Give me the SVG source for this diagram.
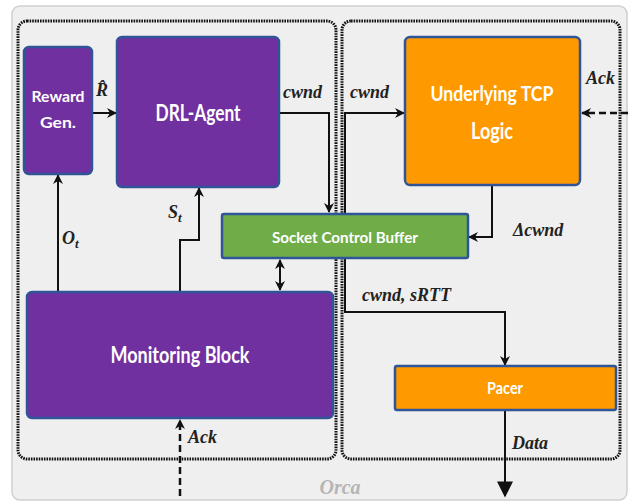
<svg xmlns="http://www.w3.org/2000/svg" width="641" height="504" viewBox="0 0 641 504">
  <style>
    .frame { fill: #efefef; stroke: #cfcfcf; stroke-width: 1.5; }
    .zone { fill: none; stroke: #111; stroke-width: 3; stroke-dasharray: 1.6 1; }
    .purple { fill: #7030a0; stroke: #2f5597; stroke-width: 2.5; }
    .orange { fill: #ff9900; stroke: #2f5597; stroke-width: 2.5; }
    .green { fill: #70ad47; stroke: #2f5597; stroke-width: 2.5; }
    .lbl { font-family: Lato, "Open Sans", sans-serif; font-weight: bold; fill: #ffffff; text-anchor: middle; }
    .math { font-family: "Liberation Serif", serif; font-style: italic; font-weight: bold; fill: #222; font-size: 18px; }
    .wire { fill: none; stroke: #111; stroke-width: 2; }
    .dash { fill: none; stroke: #111; stroke-width: 2.5; stroke-dasharray: 7 4; }
  </style>
  <defs>
    <marker id="head" viewBox="0 0 10 10" refX="9" refY="5" markerWidth="10" markerHeight="10" markerUnits="userSpaceOnUse" orient="auto-start-reverse">
      <path d="M0,0 L10,5 L0,10 L3,5 Z" fill="#111"/>
    </marker>
    <marker id="bighead" viewBox="0 0 10 10" refX="9" refY="5" markerWidth="20" markerHeight="16" markerUnits="userSpaceOnUse" orient="auto">
      <path d="M0,0 L10,5 L0,10 Z" fill="#111"/>
    </marker>
  </defs>

  <!-- outer panel -->
  <rect class="frame" x="12" y="6" width="615" height="494" rx="8"/>
  <!-- agent side and kernel side -->
  <rect class="zone" x="18" y="21" width="318" height="438" rx="9"/>
  <rect class="zone" x="342" y="21" width="278" height="438" rx="9"/>
  <text x="340" y="494" font-family="'Liberation Serif', serif" font-style="italic" font-weight="bold" font-size="20" fill="#b5b5b5" text-anchor="middle">Orca</text>

  <g id="connectors">
    <!-- reward to agent -->
    <line class="wire" x1="92" y1="113" x2="116" y2="113" marker-end="url(#head)"/>
    <!-- agent cwnd to socket buffer -->
    <polyline class="wire" points="279,113 329,113 329,212" marker-end="url(#head)"/>
    <!-- buffer to TCP logic and pacer -->
    <polyline class="wire" points="345,213 345,113 404,113" marker-end="url(#head)"/>
    <polyline class="wire" points="345,258 345,312 505,312 505,365" marker-end="url(#head)"/>
    <!-- delta cwnd -->
    <polyline class="wire" points="492,185 492,237 469,237" marker-end="url(#head)"/>
    <!-- incoming ack to TCP logic -->
    <line class="dash" x1="628" y1="113" x2="582" y2="113" marker-end="url(#head)"/>
    <!-- state to agent -->
    <polyline class="wire" points="180,292 180,240 199,240 199,188" marker-end="url(#head)"/>
    <!-- observation to reward -->
    <line class="wire" x1="58" y1="292" x2="58" y2="175" marker-end="url(#head)"/>
    <!-- buffer <-> monitor -->
    <line class="wire" x1="280" y1="260" x2="280" y2="290" marker-start="url(#head)" marker-end="url(#head)"/>
    <!-- ack into monitor -->
    <line class="dash" x1="180" y1="496" x2="180" y2="420" marker-end="url(#head)"/>
    <!-- data out -->
    <line class="wire" x1="505" y1="410" x2="505" y2="496" stroke-width="2.5" marker-end="url(#bighead)"/>

    <text class="math" x="96" y="96">R̂</text>
    <text class="math" x="283" y="98">cwnd</text>
    <text class="math" x="350" y="98">cwnd</text>
    <text class="math" x="586" y="84">Ack</text>
    <text class="math" x="513" y="236">Δcwnd</text>
    <text class="math" x="168" y="218">S<tspan font-size="13" dy="4">t</tspan></text>
    <text class="math" x="62" y="244">O<tspan font-size="13" dy="4">t</tspan></text>
    <text class="math" x="362" y="301">cwnd, sRTT</text>
    <text class="math" x="188" y="443">Ack</text>
    <text class="math" x="512" y="449">Data</text>
  </g>

  <g id="reward-gen">
    <rect class="purple" x="24" y="47" width="68" height="127" rx="5"/>
    <text class="lbl" x="58" y="102" font-size="16" textLength="53" lengthAdjust="spacingAndGlyphs">Reward</text>
    <text class="lbl" x="58" y="128" font-size="16" textLength="36" lengthAdjust="spacingAndGlyphs">Gen.</text>
  </g>
  <g id="drl-agent">
    <rect class="purple" x="117" y="37" width="162" height="150" rx="5"/>
    <text class="lbl" x="198" y="121" font-size="22" textLength="85" lengthAdjust="spacingAndGlyphs">DRL-Agent</text>
  </g>
  <g id="tcp-logic">
    <rect class="orange" x="405" y="37" width="175" height="148" rx="5"/>
    <text class="lbl" x="492" y="101" font-size="21" textLength="123" lengthAdjust="spacingAndGlyphs">Underlying TCP</text>
    <text class="lbl" x="492" y="139" font-size="22" textLength="42" lengthAdjust="spacingAndGlyphs">Logic</text>
  </g>
  <g id="socket-buffer">
    <rect class="green" x="222" y="214" width="246" height="44" rx="2"/>
    <text class="lbl" x="345" y="243" font-size="16" textLength="146" lengthAdjust="spacingAndGlyphs">Socket Control Buffer</text>
  </g>
  <g id="monitoring-block">
    <rect class="purple" x="27" y="292" width="306" height="126" rx="5"/>
    <text class="lbl" x="180" y="363" font-size="22" textLength="139" lengthAdjust="spacingAndGlyphs">Monitoring Block</text>
  </g>
  <g id="pacer">
    <rect class="orange" x="395" y="366" width="221" height="44" rx="2"/>
    <text class="lbl" x="505" y="394" font-size="17" textLength="36" lengthAdjust="spacingAndGlyphs">Pacer</text>
  </g>
</svg>
